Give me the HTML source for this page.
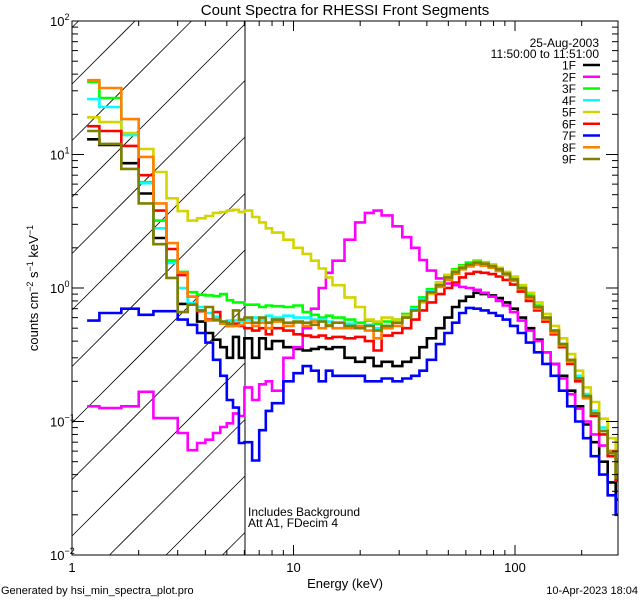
<!DOCTYPE html>
<html><head><meta charset="utf-8">
<style>
html,body{margin:0;padding:0;background:#fff;width:640px;height:600px;overflow:hidden;}
svg{display:block;font-family:"Liberation Sans",sans-serif;}
</style></head>
<body>
<svg id="chart" width="640" height="600" viewBox="0 0 640 600" xmlns="http://www.w3.org/2000/svg">
<rect x="0" y="0" width="640" height="600" fill="#fff"/>
<defs><clipPath id="plotclip"><rect x="72" y="21" width="546" height="534"/></clipPath></defs>
<text x="345" y="15" font-size="15" text-anchor="middle">Count Spectra for RHESSI Front Segments</text>
<g id="hatch"></g>
<line x1="245" y1="21" x2="245" y2="555" stroke="#000" stroke-width="1"/>
<g id="series" clip-path="url(#plotclip)"></g>
<g id="axes"></g>
<text x="345" y="588" font-size="13" text-anchor="middle">Energy (keV)</text>
<text transform="translate(38,288) rotate(-90)" font-size="13" text-anchor="middle">counts cm<tspan dy="-5" font-size="9">−2</tspan><tspan dy="5"> s</tspan><tspan dy="-5" font-size="9">−1</tspan><tspan dy="5"> keV</tspan><tspan dy="-5" font-size="9">−1</tspan></text>
<text x="599" y="47" font-size="12" text-anchor="end">25-Aug-2003</text>
<text x="599" y="58" font-size="12" text-anchor="end">11:50:00 to 11:51:00</text>
<g id="legend"></g>
<text x="248" y="516" font-size="12">Includes Background</text>
<text x="248" y="527" font-size="12">Att A1, FDecim 4</text>
<text x="1" y="594" font-size="11">Generated by hsi_min_spectra_plot.pro</text>
<text x="638" y="594" font-size="11" text-anchor="end">10-Apr-2023 18:04</text>
</svg>
<script>
const energies=[1.17,1.33,1.67,2.0,2.33,2.67,3.0,3.33,3.67,4.0,4.33,4.67,5.0,5.33,5.67,6.0,6.5,7,7.5,8,9,10,11,12,13,14,15,17,19,21,23,25,28,31,34,37,40,44,48,52,56,60,65,70,76,82,88,95,103,112,122,133,145,158,172,187,203,220,240,262,285,292];
const seriesNames=["1F","2F","3F","4F","5F","6F","7F","8F","9F"];
const seriesColors=["#000000","#ff00ff","#00ff00","#00ffff","#d4d400","#ff0000","#0000ff","#ff8000","#808000"];
const s1F=[13,11.8,8.6,5.1,2.37,1.6,0.76,0.76,0.56,0.46,0.41,0.36,0.30,0.43,0.30,0.42, 0.3,0.42,0.35,0.4,0.36,0.35, 0.34,0.35,0.36,0.35,0.36, 0.3,0.28,0.3,0.26,0.28, 0.26,0.28,0.3,0.36,0.42, 0.5,0.6,0.72,0.8,0.86, 0.92,0.9,0.88,0.84,0.78, 0.7,0.6,0.5,0.41,0.33, 0.27,0.22,0.17,0.13,0.095, 0.07,0.05,0.035,0.026];
const s2F=[0.13,0.126,0.13,0.167,0.106,0.106,0.082,0.061,0.069,0.073,0.082,0.091,0.097,0.115,0.11,0.18, 0.145,0.19,0.2,0.17,0.3,0.36, 0.5,0.7,1.0,1.3,1.6, 2.3,3.1,3.65,3.8,3.5, 2.9,2.4,2.0,1.62,1.35, 1.18,1.08,1.05,1.02,1.0, 0.97,0.92,0.86,0.8,0.74, 0.66,0.57,0.48,0.4,0.33, 0.27,0.21,0.16,0.125,0.1, 0.08,0.066,0.06,0.05];
const s3F=[35,26.5,14,6.2,3.2,1.6,1.32,0.93,0.89,0.88,0.87,0.9,0.81,0.78,0.78,0.75, 0.75,0.72,0.74,0.73,0.72,0.74, 0.66,0.63,0.6,0.62,0.6, 0.58,0.55,0.57,0.54,0.56, 0.58,0.64,0.72,0.85,0.98, 1.1,1.25,1.38,1.48,1.55, 1.6,1.56,1.5,1.4,1.3, 1.18,1.02,0.88,0.74,0.6, 0.48,0.38,0.29,0.21,0.16, 0.12,0.085,0.058,0.036];
const s4F=[26,22.7,14,6.1,2.8,1.54,1.0,0.77,0.72,0.65,0.61,0.56,0.57,0.57,0.56,0.58, 0.6,0.58,0.62,0.6,0.62,0.6, 0.6,0.58,0.58,0.56,0.55, 0.54,0.52,0.53,0.5,0.52, 0.55,0.62,0.7,0.82,0.95, 1.05,1.2,1.32,1.42,1.5, 1.52,1.5,1.45,1.36,1.27, 1.15,1.0,0.86,0.72,0.6, 0.48,0.38,0.29,0.22,0.16, 0.12,0.09,0.06,0.04];
const s5F=[19,17.5,14.5,11,7.4,4.7,3.77,3.2,3.33,3.46,3.65,3.7,3.8,3.85,3.7,3.8, 3.4,3.1,2.8,2.6,2.3,2.0, 1.8,1.6,1.4,1.2,1.05, 0.85,0.72,0.58,0.56,0.6, 0.58,0.62,0.68,0.78,0.9, 1.1,1.25,1.35,1.45,1.5, 1.57,1.55,1.5,1.42,1.32, 1.22,1.05,0.92,0.78,0.64, 0.52,0.42,0.32,0.24,0.18, 0.14,0.105,0.075,0.052];
const s6F=[16.3,15,11.6,7.0,3.8,1.96,1.25,0.86,0.67,0.58,0.66,0.55,0.52,0.54,0.52,0.5, 0.48,0.5,0.45,0.5,0.48,0.45, 0.44,0.43,0.44,0.42,0.43, 0.42,0.43,0.4,0.34,0.44, 0.46,0.5,0.58,0.68,0.78, 0.9,1.0,1.1,1.2,1.28, 1.32,1.3,1.27,1.22,1.15, 1.06,0.94,0.8,0.68,0.56, 0.45,0.36,0.27,0.2,0.15, 0.11,0.08,0.055,0.036];
const s7F=[0.57,0.65,0.70,0.63,0.67,0.67,0.58,0.53,0.46,0.39,0.29,0.22,0.145,0.127,0.069,0.07, 0.051,0.086,0.12,0.137,0.2,0.23, 0.26,0.24,0.2,0.24,0.22, 0.22,0.22,0.2,0.2,0.21, 0.2,0.21,0.22,0.24,0.29, 0.38,0.46,0.55,0.65,0.71, 0.7,0.68,0.65,0.62,0.58, 0.52,0.46,0.39,0.33,0.27, 0.22,0.17,0.13,0.1,0.075, 0.055,0.04,0.028,0.02];
const s8F=[36,31.5,18.4,9.6,4.3,2.17,1.3,0.86,0.68,0.57,0.57,0.54,0.52,0.52,0.53,0.55, 0.52,0.55,0.5,0.56,0.52,0.55, 0.52,0.56,0.5,0.53,0.5, 0.5,0.52,0.48,0.42,0.5, 0.52,0.6,0.68,0.8,0.92, 1.02,1.15,1.28,1.38,1.45, 1.5,1.47,1.42,1.34,1.25, 1.13,0.98,0.84,0.7,0.58, 0.46,0.37,0.28,0.21,0.15, 0.115,0.085,0.06,0.04];
const s9F=[15,12,7.8,4.3,2.13,1.19,0.66,0.75,0.68,0.72,0.58,0.56,0.54,0.68,0.58,0.6, 0.55,0.6,0.55,0.58,0.55,0.56, 0.55,0.53,0.56,0.52,0.55, 0.52,0.5,0.52,0.48,0.52, 0.55,0.6,0.68,0.8,0.93, 1.05,1.2,1.32,1.42,1.5, 1.55,1.52,1.46,1.38,1.28, 1.16,1.0,0.86,0.72,0.6, 0.48,0.38,0.29,0.21,0.155, 0.115,0.085,0.058,0.038];
const seriesValues=[s1F,s2F,s3F,s4F,s5F,s6F,s7F,s8F,s9F];
const xTickValues=[1,10,100];
const xTickLabels=["1","10","100"];
const yTickValues=[0.01,0.1,1,10,100];
const yTickExponents=["−2","−1","0","1","2"];

const NS="http://www.w3.org/2000/svg";
const X0=72,X1=618,Y0=555,Y1=21;
const XMIN=1,XMAX=Math.pow(10,(X1-X0)/221.5);
const YMIN=0.01,YMAX=100;
function xs(e){return X0+(Math.log10(e)-Math.log10(XMIN))/(Math.log10(XMAX)-Math.log10(XMIN))*(X1-X0);}
function ys(v){return Y0-(Math.log10(v)-Math.log10(YMIN))/(Math.log10(YMAX)-Math.log10(YMIN))*(Y0-Y1);}
function mk(tag,attrs,parent){const el=document.createElementNS(NS,tag);for(const k in attrs)el.setAttribute(k,attrs[k]);parent.appendChild(el);return el;}

// hatch lines, clipped manually to x 72..245, y 21..555 (line: y = c - x)
const hatch=document.getElementById('hatch');
const HX0=72,HX1=245;
for(let k=-4;k<14;k++){
  const c=84+56.5*k+72;
  let xa=Math.max(HX0,c-Y0), xb=Math.min(HX1,c-Y1);
  if(xb<=xa) continue;
  const l=mk('line',{x1:xa,y1:c-xa,x2:xb,y2:c-xb,stroke:'#000','stroke-width':0.8},hatch);
  
  
}

const sg=document.getElementById('series');
seriesValues.forEach((vals,si)=>{
  let d='';
  for(let i=0;i<vals.length;i++){
    const xa=xs(energies[i]),xb=xs(energies[i+1]),y=ys(vals[i]);
    d+=(i===0?'M':'L')+xa.toFixed(1)+','+y.toFixed(1)+'L'+xb.toFixed(1)+','+y.toFixed(1);
  }
  const p=mk('path',{d:d,fill:'none',stroke:seriesColors[si],'stroke-width':2.6,'stroke-linejoin':'miter'},sg);
  
  
});

const ax=document.getElementById('axes');
const frame=mk('rect',{x:X0,y:Y1,width:X1-X0,height:Y0-Y1,fill:'none',stroke:'#000','stroke-width':1},ax);


for(let dec=0;dec<3;dec++){
  for(let m=1;m<10;m++){
    const e=m*Math.pow(10,dec); if(e>XMAX) break;
    const x=xs(e),len=(m===1)?10:5;
    const t1=mk('line',{x1:x,y1:Y0,x2:x,y2:Y0-len,stroke:'#000','stroke-width':1},ax);
    
    
    const t2=mk('line',{x1:x,y1:Y1,x2:x,y2:Y1+len,stroke:'#000','stroke-width':1},ax);
    
    
  }
}
xTickValues.forEach((v,i)=>{
  const t=mk('text',{x:xs(v),y:572,'font-size':13,'text-anchor':'middle'},ax);
  t.textContent=xTickLabels[i];
  
  
});
for(let dec=-2;dec<2;dec++){
  for(let m=1;m<10;m++){
    const v=m*Math.pow(10,dec);
    const y=ys(v),len=(m===1)?12:6;
    const t1=mk('line',{x1:X0,y1:y,x2:X0+len,y2:y,stroke:'#000','stroke-width':1},ax);
    
    
    const t2=mk('line',{x1:X1,y1:y,x2:X1-len,y2:y,stroke:'#000','stroke-width':1},ax);
    
    
  }
}
yTickValues.forEach((v,i)=>{
  const t=mk('text',{x:50,y:ys(v)+5,'font-size':13,'text-anchor':'start'},ax);
  t.textContent='10';
  const sup=mk('tspan',{dy:-6,'font-size':9},t);
  sup.textContent=yTickExponents[i];
  
  
});

const lg=document.getElementById('legend');
seriesNames.forEach((n,i)=>{
  const y=65+11.75*i;
  const g=mk('g',{},lg);
  
  
  const t=mk('text',{x:576,y:y+4.5,'font-size':12,'text-anchor':'end'},g);
  t.textContent=n;
  mk('line',{x1:583,y1:y,x2:600,y2:y,stroke:seriesColors[i],'stroke-width':2.5},g);
});
</script>
</body></html>
